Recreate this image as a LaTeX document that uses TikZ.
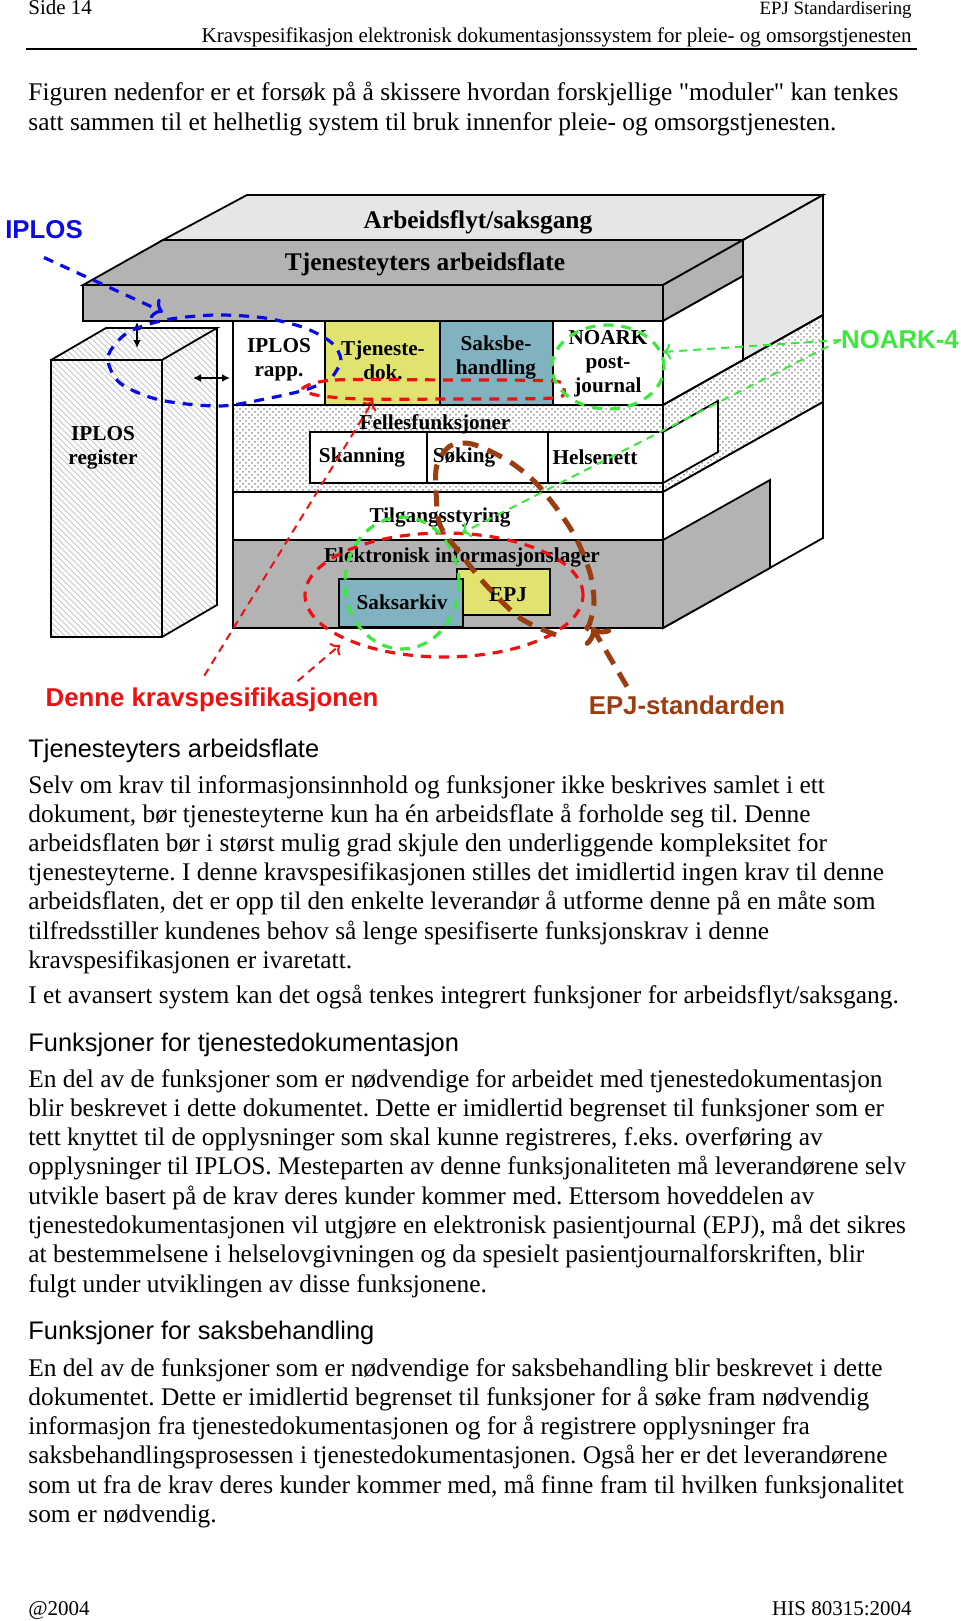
\documentclass[tikz,border=0pt]{standalone}
\usepackage{fontspec}
\setmainfont{Liberation Serif}
\setsansfont{Liberation Sans}
\usetikzlibrary{patterns}
\usetikzlibrary{arrows.meta}

\definecolor{facelight}{HTML}{E6E6E6}
\definecolor{facegray}{HTML}{B3B3B3}
\definecolor{dokyellow}{HTML}{E0E36E}
\definecolor{saksblue}{HTML}{80B3BF}
\definecolor{iplosblue}{HTML}{0A0AE6}
\definecolor{kravred}{HTML}{EE1111}
\definecolor{noarkgreen}{HTML}{3DE83D}
\definecolor{epjbrown}{HTML}{9A3D10}

\tikzset{
  face/.style={draw=black, line width=0.9pt},
  lbl/.style={font=\bfseries\fontsize{10.6}{12}\selectfont, align=center, inner sep=0pt},
  biglbl/.style={font=\bfseries\fontsize{12.7}{14}\selectfont, inner sep=0pt},
  tag/.style={font=\sffamily\bfseries\fontsize{12.9}{14}\selectfont, inner sep=0pt},
  bodyline/.style={anchor=base west, inner sep=0pt, font=\fontsize{12.7}{14}\selectfont},
  headline/.style={anchor=base west, inner sep=0pt, font=\sffamily\fontsize{12.7}{14}\selectfont},
  pageline/.style={inner sep=0pt, font=\fontsize{10.5}{12}\selectfont},
  bluedash/.style={draw=iplosblue, line width=1.6pt, dash pattern=on 5pt off 4pt},
  reddash/.style={draw=kravred, line width=1.6pt, dash pattern=on 5pt off 4pt},
  redthin/.style={draw=kravred, line width=1pt, dash pattern=on 4pt off 3pt},
  greendash/.style={draw=noarkgreen, line width=1.6pt, dash pattern=on 5pt off 4pt},
  greenthin/.style={draw=noarkgreen, line width=1pt, dash pattern=on 4pt off 3pt},
  browndash/.style={draw=epjbrown, line width=2.5pt, dash pattern=on 8pt off 5pt},
  dots/.style={pattern=crosshatch dots, pattern color=gray!85},
  hatch/.style={pattern=north west lines, pattern color=gray!45},
}

\begin{document}
\frenchspacing
\begin{tikzpicture}[x=0.5pt,y=-0.5pt]
  \useasboundingbox (0,0) rectangle (960,1621);
  \fill[white] (0,0) rectangle (960,1621);

  \node[pageline, anchor=base west] (side) at (28,15) {Side 14};
  \node[pageline, anchor=base east, font=\fontsize{9.4}{12}\selectfont] (std) at (912,15) {EPJ Standardisering};
  \node[pageline, anchor=base east] (doctitle) at (912,43)
    {Kravspesifikasjon elektronisk dokumentasjonssystem for pleie- og omsorgstjenesten};
  \draw[line width=0.8pt] (26,49) -- (917,49);

  \foreach \ln [count=\i from 0] in {
    {Figuren nedenfor er et forsøk på å skissere hvordan forskjellige \textquotedbl moduler\textquotedbl\ kan tenkes},
    {satt sammen til et helhetlig system til bruk innenfor pleie- og omsorgstjenesten.}}
    \node[bodyline] (intro\i) at (28,101+30*\i) {\ln};

  \filldraw[face, fill=facelight] (247,195) -- (823,195) -- (743,240) -- (163,240) -- cycle;
  \filldraw[face, fill=facelight] (743,240) -- (823,195) -- (823,315) -- (743,360) -- cycle;
  \filldraw[face, fill=facegray] (163,240) -- (743,240) -- (663,285) -- (83,285) -- cycle;
  \filldraw[face, fill=facegray] (83,285) rectangle (663,321);
  \filldraw[face, fill=facegray] (663,285) -- (743,240) -- (743,276) -- (663,321) -- cycle;
  \filldraw[face, fill=white] (663,321) -- (743,276) -- (743,360) -- (663,405) -- cycle;
  \path[dots] (663,405) -- (823,315) -- (823,402) -- (663,492) -- cycle;
  \draw[face] (663,405) -- (823,315) -- (823,402) -- (663,492) -- cycle;
  \filldraw[face, fill=white] (663,432) -- (718,401) -- (718,452) -- (663,483) -- cycle;
  \filldraw[face, fill=white] (663,492) -- (823,402) -- (823,538) -- (663,628) -- cycle;
  \filldraw[face, fill=facegray] (663,540) -- (770,480) -- (770,568) -- (663,628) -- cycle;

  \filldraw[face, fill=white] (233,321) rectangle (325,405);
  \filldraw[face, fill=dokyellow] (325,321) rectangle (440,405);
  \filldraw[face, fill=saksblue] (440,321) rectangle (553,405);
  \filldraw[face, fill=white] (553,321) rectangle (663,405);
  \path[dots] (233,405) rectangle (663,492);
  \draw[face] (233,405) rectangle (663,492);
  \filldraw[face, fill=white] (310,432) rectangle (427,483);
  \filldraw[face, fill=white] (427,432) rectangle (548,483);
  \filldraw[face, fill=white] (548,432) rectangle (663,483);
  \filldraw[face, fill=white] (233,492) rectangle (663,540);
  \filldraw[face, fill=facegray] (233,540) rectangle (663,628);
  \filldraw[face, fill=dokyellow] (457,569) rectangle (550,615);
  \filldraw[face, fill=saksblue] (339,579) rectangle (463,627);

  \path[hatch] (51,360) rectangle (162,637);
  \path[hatch] (51,360) -- (106,328) -- (217,328) -- (162,360) -- cycle;
  \path[hatch] (162,360) -- (217,328) -- (217,605) -- (162,637) -- cycle;
  \draw[face] (51,360) rectangle (162,637);
  \draw[face] (51,360) -- (106,328) -- (217,328) -- (162,360);
  \draw[face] (217,328) -- (217,605) -- (162,637);

  \path (137,322) coordinate (slabfoot) (137,348) coordinate (boxtop)
        (193,378) coordinate (boxside) (230,378) coordinate (rowside);
  \draw[{Latex[length=4pt,width=4pt]}-{Latex[length=4pt,width=4pt]}, line width=0.8pt] (slabfoot) -- (boxtop);
  \draw[{Latex[length=4pt,width=4pt]}-{Latex[length=4pt,width=4pt]}, line width=0.8pt] (boxside) -- (rowside);

  \node[biglbl] (flow) at (478,222) {Arbeidsflyt/saksgang};
  \node[biglbl] (flate) at (425,264) {Tjenesteyters arbeidsflate};
  \node[lbl] (iplosrapp) at (279,360) {IPLOS\\rapp.};
  \node[lbl] (tjdok) at (383,360) {Tjeneste-\\dok.};
  \node[lbl] (saksbeh) at (496,357) {Saksbe-\\handling};
  \node[lbl] (postjournal) at (608,364) {NOARK\\post-\\journal};
  \node[lbl] (felles) at (435,424) {Fellesfunksjoner};
  \node[lbl] (skanning) at (362,457) {Skanning};
  \node[lbl] (soking) at (464,457) {Søking};
  \node[lbl] (helsenett) at (595,457) {Helsenett};
  \node[lbl] (tilgang) at (440,517) {Tilgangsstyring};
  \node[lbl] (lager) at (462,557) {Elektronisk informasjonslager};
  \node[lbl] (saksarkiv) at (402,602) {Saksarkiv};
  \node[lbl] (epj) at (508,595) {EPJ};
  \node[lbl] (register) at (103,448) {IPLOS\\register};

  \node[tag, text=iplosblue] (iplos) at (44,230) {IPLOS};
  \node[tag, text=noarkgreen] (noark4) at (900,340) {NOARK-4};
  \node[tag, text=kravred] (krav) at (212,700) {Denne kravspesifikasjonen};
  \node[tag, text=epjbrown] (epjstd) at (687,705) {EPJ-standarden};

  \path (163,312) coordinate (iplostip) (373,401) coordinate (radtip)
        (340,645) coordinate (lagertipred) (663,352) coordinate (noarktip)
        (462,533) coordinate (lagertip) (592,627) coordinate (epjtip);

  \draw[bluedash] plot[smooth] coordinates {(333,376) (341,360) (332,343) (305,328) (265,318)
    (215,315) (165,320) (127,333) (108,357) (120,383) (160,400) (220,406) (270,398)
    (305,390) (320,384)};
  \draw[bluedash, ->] ([yshift=-9pt]iplos.south) -- (iplostip);

  \draw[reddash] plot[smooth cycle] coordinates {(303,388) (335,380) (450,380) (553,381)
    (564,389) (553,398) (450,399) (360,399) (316,395)};
  \draw[reddash] (444,595) ellipse [x radius=69.5pt, y radius=31pt];
  \draw[redthin, ->, shorten <=7pt] ([xshift=-7.5pt]krav.north) -- (radtip);
  \draw[redthin, ->, shorten <=5pt] ([xshift=39pt]krav.north) -- (lagertipred);

  \draw[greendash] (608,367) ellipse [x radius=28pt, y radius=21pt];
  \draw[greendash] (402,583) ellipse [x radius=28.5pt, y radius=33pt];
  \draw[greenthin, ->] (noark4.west) -- (noarktip);
  \draw[greenthin, ->] (noark4.west) -- (lagertip);

  \draw[browndash] plot[smooth] coordinates {(556,635) (520,618) (485,584) (460,553)
    (440,525) (436,490) (437,465) (450,446) (472,444) (507,460) (535,482) (560,513)
    (577,540) (590,573) (594,602) (589,625) (580,636)};
  \draw[browndash, ->, shorten <=5pt] ([xshift=-27.5pt]epjstd.north) -- (epjtip);

  \node[headline] (head1) at (28,757) {Tjenesteyters arbeidsflate};
  \foreach \ln [count=\i from 0] in {
    {Selv om krav til informasjonsinnhold og funksjoner ikke beskrives samlet i ett},
    {dokument, bør tjenesteyterne kun ha én arbeidsflate å forholde seg til. Denne},
    {arbeidsflaten bør i størst mulig grad skjule den underliggende kompleksitet for},
    {tjenesteyterne. I denne kravspesifikasjonen stilles det imidlertid ingen krav til denne},
    {arbeidsflaten, det er opp til den enkelte leverandør å utforme denne på en måte som},
    {tilfredsstiller kundenes behov så lenge spesifiserte funksjonskrav i denne},
    {kravspesifikasjonen er ivaretatt.}}
    \node[bodyline] (flate\i) at (28,793+29.2*\i) {\ln};
  \node[bodyline] (flyt) at (28,1003)
    {I et avansert system kan det også tenkes integrert funksjoner for arbeidsflyt/saksgang.};

  \node[headline] (head2) at (28,1051) {Funksjoner for tjenestedokumentasjon};
  \foreach \ln [count=\i from 0] in {
    {En del av de funksjoner som er nødvendige for arbeidet med tjenestedokumentasjon},
    {blir beskrevet i dette dokumentet. Dette er imidlertid begrenset til funksjoner som er},
    {tett knyttet til de opplysninger som skal kunne registreres, f.eks. overføring av},
    {opplysninger til IPLOS. Mesteparten av denne funksjonaliteten må leverandørene selv},
    {utvikle basert på de krav deres kunder kommer med. Ettersom hoveddelen av},
    {tjenestedokumentasjonen vil utgjøre en elektronisk pasientjournal (EPJ), må det sikres},
    {at bestemmelsene i helselovgivningen og da spesielt pasientjournalforskriften, blir},
    {fulgt under utviklingen av disse funksjonene.}}
    \node[bodyline] (dok\i) at (28,1087+29.3*\i) {\ln};

  \node[headline] (head3) at (28,1339) {Funksjoner for saksbehandling};
  \foreach \ln [count=\i from 0] in {
    {En del av de funksjoner som er nødvendige for saksbehandling blir beskrevet i dette},
    {dokumentet. Dette er imidlertid begrenset til funksjoner for å søke fram nødvendig},
    {informasjon fra tjenestedokumentasjonen og for å registrere opplysninger fra},
    {saksbehandlingsprosessen i tjenestedokumentasjonen. Også her er det leverandørene},
    {som ut fra de krav deres kunder kommer med, må finne fram til hvilken funksjonalitet},
    {som er nødvendig.}}
    \node[bodyline] (saks\i) at (28,1376+29.3*\i) {\ln};

  \node[pageline, anchor=base west] (year) at (28,1615) {@2004};
  \node[pageline, anchor=base east] (his) at (912,1615) {HIS 80315:2004};
\end{tikzpicture}
\end{document}
